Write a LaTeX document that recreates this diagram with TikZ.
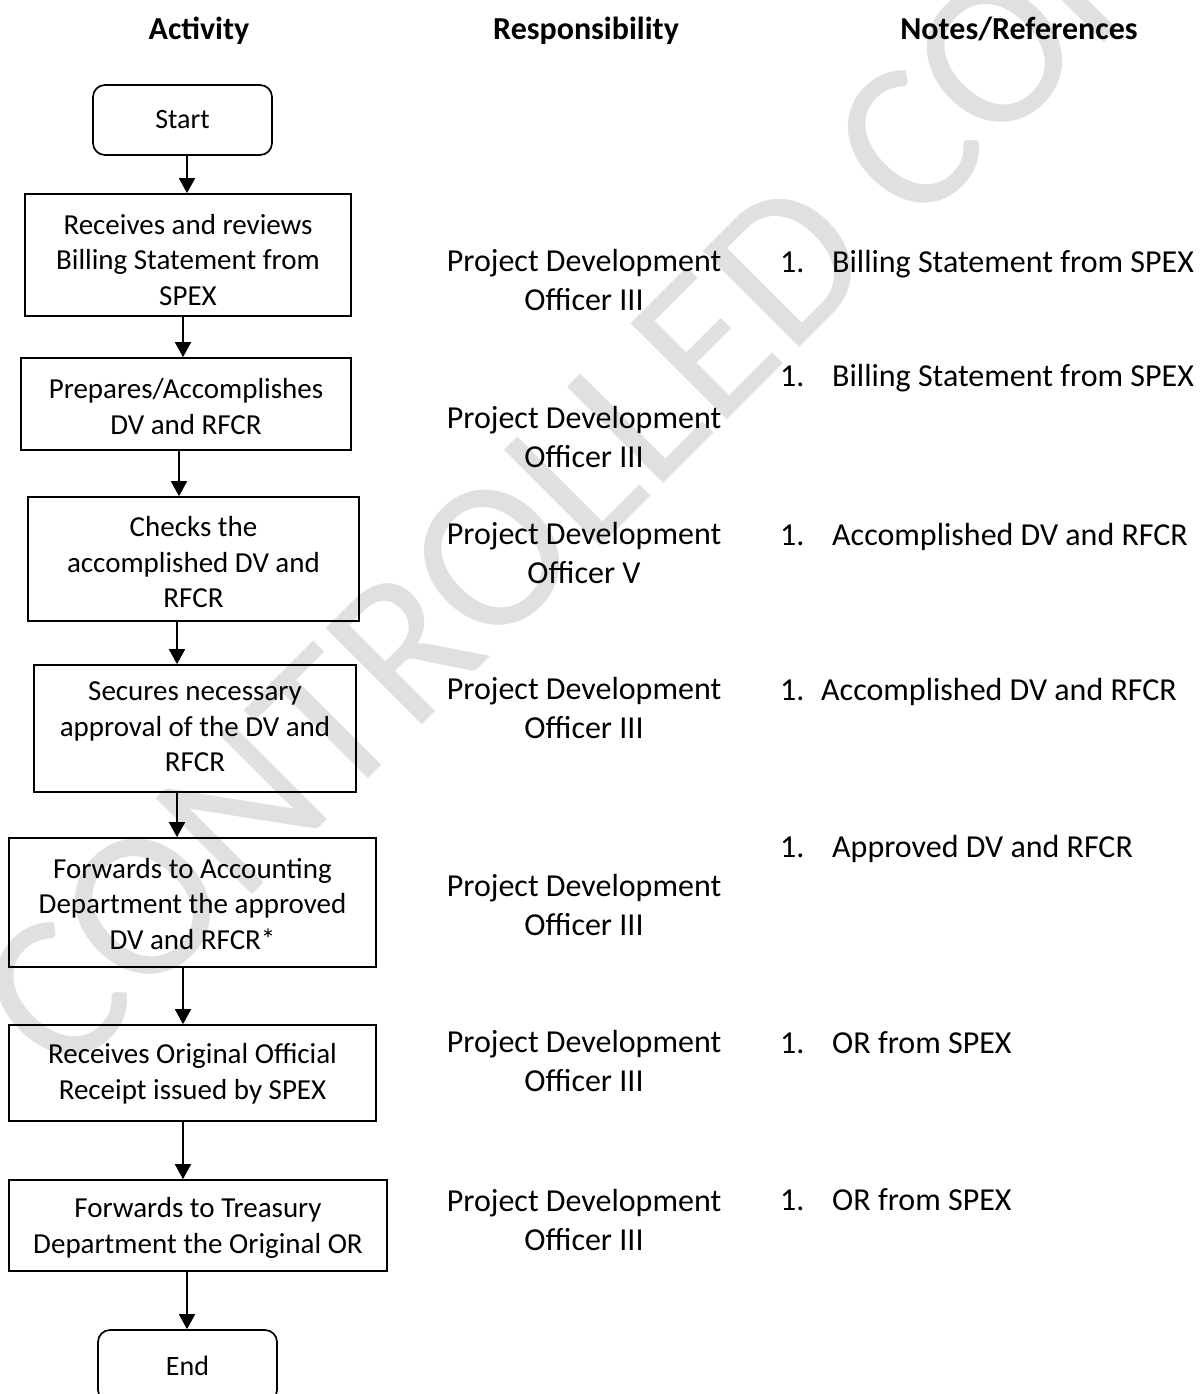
\documentclass[tikz,border=0pt]{standalone}
\usepackage{fontspec}
\setmainfont{Carlito}
\usetikzlibrary{arrows.meta}
\begin{document}
\begin{tikzpicture}[x=1pt,y=-1pt,
  box/.style={draw, line width=1.7pt, inner sep=0pt, align=center, text depth=0pt, font=\fontsize{29}{35.5}\selectfont},
  term/.style={draw, line width=1.7pt, rounded corners=12pt, inner sep=0pt, font=\fontsize{28}{34}\selectfont},
  arr/.style={line width=1.7pt, -{Triangle[width=16pt,length=15pt]}},
  head/.style={font=\fontsize{32}{39}\selectfont\bfseries, anchor=base, inner sep=0pt},
  resp/.style={align=center, font=\fontsize{32}{39}\selectfont, anchor=base, inner sep=0pt},
  note/.style={font=\fontsize{32}{39}\selectfont, anchor=base west, inner sep=0pt},
  wm/.style={text=black!12, font=\fontsize{212}{240}\selectfont, inner sep=0pt}
]
\useasboundingbox (0,0) rectangle (1203,1394);

% watermark
\node[wm, rotate=45] (wmark) at (605,445) {CONTROLLED COPY};

% headers
\node[head] (h1) at (199,40) {Activity};
\node[head] (h2) at (586,40) {Responsibility};
\node[head] (h3) at (1019,40) {Notes/References};

% activity boxes
\node[term, minimum width=179pt, minimum height=70pt] (start) at (182.5,120) {Start};
\node[box, minimum width=326pt, minimum height=122pt, text height=100pt] (b1) at (188,255) {Receives and reviews\\Billing Statement from\\SPEX};
\node[box, minimum width=330pt, minimum height=92pt, text height=60pt] (b2) at (186,404) {Prepares/Accomplishes\\DV and RFCR};
\node[box, minimum width=331pt, minimum height=124pt, text height=97pt] (b3) at (193.5,559) {Checks the\\accomplished DV and\\RFCR};
\node[box, minimum width=322pt, minimum height=127pt, text height=86pt] (b4) at (195,728.5) {Secures necessary\\approval of the DV and\\RFCR};
\node[box, minimum width=367pt, minimum height=129pt, text height=93pt] (b5) at (192.5,902.5) {Forwards to Accounting\\Department the approved\\DV and RFCR*};
\node[box, minimum width=367pt, minimum height=96pt, text height=52pt] (b6) at (192.5,1073) {Receives Original Official\\Receipt issued by SPEX};
\node[box, minimum width=378pt, minimum height=91pt, text height=55pt] (b7) at (198,1225.5) {Forwards to Treasury\\Department the Original OR};
\node[term, minimum width=179pt, minimum height=72pt] (end) at (187.5,1366) {End};

% arrow x positions
\coordinate (a0) at (187,0);
\coordinate (a1) at (183,0);
\coordinate (a2) at (179,0);
\coordinate (a3) at (177,0);
\coordinate (a4) at (177,0);
\coordinate (a5) at (183,0);
\coordinate (a6) at (183,0);
\coordinate (a7) at (187,0);
\draw[arr] (start.south -| a0) -- (b1.north -| a0);
\draw[arr] (b1.south -| a1) -- (b2.north -| a1);
\draw[arr] (b2.south -| a2) -- (b3.north -| a2);
\draw[arr] (b3.south -| a3) -- (b4.north -| a3);
\draw[arr] (b4.south -| a4) -- (b5.north -| a4);
\draw[arr] (b5.south -| a5) -- (b6.north -| a5);
\draw[arr] (b6.south -| a6) -- (b7.north -| a6);
\draw[arr] (b7.south -| a7) -- (end.north -| a7);

% responsibility
\node[resp] (r1) at (584,310) {Project Development\\Officer III};
\node[resp] (r2) at (584,467) {Project Development\\Officer III};
\node[resp] (r3) at (584,583) {Project Development\\Officer V};
\node[resp] (r4) at (584,738) {Project Development\\Officer III};
\node[resp] (r5) at (584,935) {Project Development\\Officer III};
\node[resp] (r6) at (584,1091) {Project Development\\Officer III};
\node[resp] (r7) at (584,1250) {Project Development\\Officer III};

% notes
\node[note] (n1a) at (780,272) {1.};
\node[note] (n1b) at (832,272) {Billing Statement from SPEX};
\node[note] (n2a) at (780,386) {1.};
\node[note] (n2b) at (832,386) {Billing Statement from SPEX};
\node[note] (n3a) at (780,545) {1.};
\node[note] (n3b) at (832,545) {Accomplished DV and RFCR};
\node[note] (n4a) at (780,700) {1.};
\node[note] (n4b) at (821,700) {Accomplished DV and RFCR};
\node[note] (n5a) at (780,857) {1.};
\node[note] (n5b) at (832,857) {Approved DV and RFCR};
\node[note] (n6a) at (780,1053) {1.};
\node[note] (n6b) at (832,1053) {OR from SPEX};
\node[note] (n7a) at (780,1210) {1.};
\node[note] (n7b) at (832,1210) {OR from SPEX};
\end{tikzpicture}
\end{document}
